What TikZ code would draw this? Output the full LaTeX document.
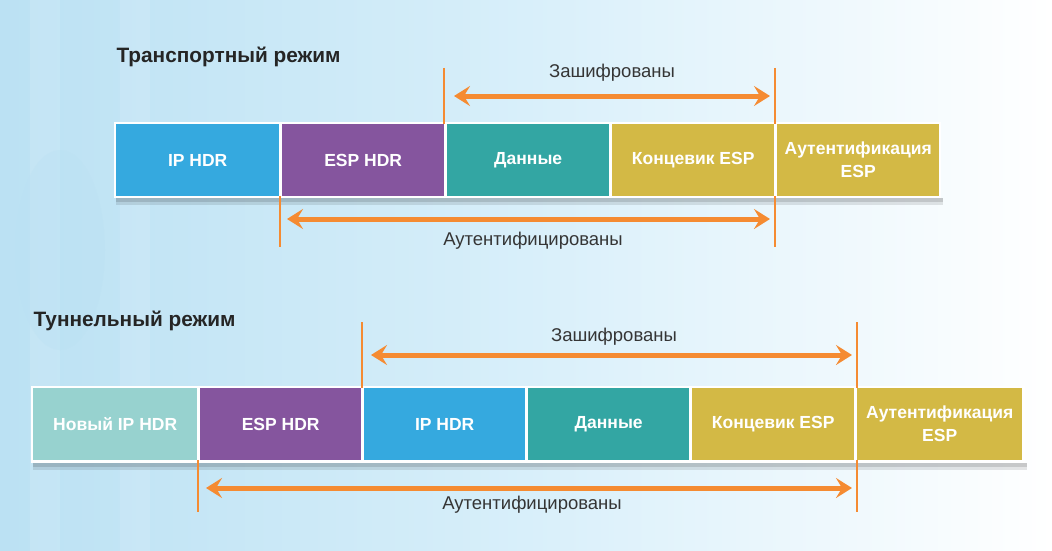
\documentclass[tikz,border=0pt]{standalone}
\usepackage{fontspec}
\setmainfont{Liberation Sans}
\usetikzlibrary{arrows.meta,positioning}
\definecolor{ipblue}{HTML}{35A9DF}
\definecolor{esppurple}{HTML}{85559E}
\definecolor{datateal}{HTML}{33A6A3}
\definecolor{espyellow}{HTML}{D3B945}
\definecolor{newip}{HTML}{97D2CF}
\definecolor{arroworange}{HTML}{F58B32}
\definecolor{txtgray}{HTML}{353535}
\definecolor{bgleft}{HTML}{BBE1F3}
\definecolor{bgmid}{HTML}{D8EFFA}
\tikzset{
  cell/.style={anchor=north west, minimum height=72pt, inner sep=0pt, text=white,
    font=\fontsize{17.5}{23}\selectfont\bfseries, align=center},
  frame/.style={fill=white, draw=none},
  tick/.style={draw=arroworange, line width=2pt},
  span/.style={draw=arroworange, line width=5pt,
    {Stealth[length=16pt,width=20pt,inset=6pt]}-{Stealth[length=16pt,width=20pt,inset=6pt]}},
  lbl/.style={text=txtgray, font=\fontsize{18.5}{20}\selectfont},
  title/.style={anchor=west, text=txtgray!70!black, font=\fontsize{20.8}{22}\selectfont\bfseries}
}
\begin{document}
\begin{tikzpicture}[x=1pt,y=-1pt]
\useasboundingbox (0,0) rectangle (1052,551);
% background
\shade[left color=bgleft, right color=white, middle color=bgmid, shading angle=90] (0,0) rectangle (1052,551);
\fill[white, opacity=0.12] (30,0) rectangle (60,551);
\fill[white, opacity=0.10] (120,0) rectangle (150,551);
\fill[bgleft, opacity=0.35] (60,250) ellipse (45 and 100);

% ===== Transport mode =====
\node[title] (ttitle) at (113,57) {Транспортный режим};
\fill[black, opacity=0.10] (116,198) rectangle (943,205);
\fill[black, opacity=0.12] (116,198) rectangle (943,202);
\fill[frame] (114,122) rectangle (941,198);
\node[cell, fill=ipblue, minimum width=163pt] (t1) at (116,124) {IP HDR};
\node[cell, fill=esppurple, minimum width=162pt] (t2) at (282,124) {ESP HDR};
\node[cell, fill=datateal, minimum width=162pt] (t3) at (447,124) {Данные};
\node[cell, fill=espyellow, minimum width=162pt] (t4) at (612,124) {Концевик ESP};
\node[cell, fill=espyellow, minimum width=162pt] (t5) at (777,124) {Аутентификация\\ESP};

\coordinate (te1) at (444,68);
\coordinate (te2) at (775,68);
\coordinate (tb1) at (280,247);
\coordinate (tb2) at (775,247);
\draw[tick] (te1) -- (te1 |- t3.north);
\draw[tick] (te2) -- (te2 |- t5.north);
\draw[tick] (tb1 |- t1.south) -- (tb1);
\draw[tick] (tb2 |- t5.south) -- (tb2);
\coordinate (tea) at (454,96);
\coordinate (teb) at (770,96);
\draw[span] (tea) -- (teb);
\node[lbl] (tenc) at (612,73) {Зашифрованы};
\coordinate (taa) at (287,219);
\coordinate (tab) at (770,219);
\draw[span] (taa) -- (tab);
\node[lbl] (tauth) at (533,241) {Аутентифицированы};

% ===== Tunnel mode =====
\node[title] (ntitle) at (30,321) {Туннельный режим};
\fill[black, opacity=0.10] (33,463) rectangle (1027,470);
\fill[black, opacity=0.12] (33,463) rectangle (1027,467);
\fill[frame] (31,386) rectangle (1025,463);
\node[cell, fill=newip, minimum width=164pt] (n1) at (33,388) {Новый IP HDR};
\node[cell, fill=esppurple, minimum width=161pt] (n2) at (200,388) {ESP HDR};
\node[cell, fill=ipblue, minimum width=161pt] (n3) at (364,388) {IP HDR};
\node[cell, fill=datateal, minimum width=161pt] (n4) at (528,388) {Данные};
\node[cell, fill=espyellow, minimum width=162pt] (n5) at (692,388) {Концевик ESP};
\node[cell, fill=espyellow, minimum width=165pt] (n6) at (857,388) {Аутентификация\\ESP};

\coordinate (ne1) at (362,322);
\coordinate (ne2) at (857,322);
\coordinate (nb1) at (198,512);
\coordinate (nb2) at (857,512);
\draw[tick] (ne1) -- (ne1 |- n3.north);
\draw[tick] (ne2) -- (ne2 |- n6.north);
\draw[tick] (nb1 |- n1.south) -- (nb1);
\draw[tick] (nb2 |- n6.south) -- (nb2);
\coordinate (nea) at (371,355);
\coordinate (neb) at (852,355);
\draw[span] (nea) -- (neb);
\node[lbl] (nenc) at (614,337) {Зашифрованы};
\coordinate (naa) at (206,488);
\coordinate (nab) at (852,488);
\draw[span] (naa) -- (nab);
\node[lbl] (nauth) at (532,505) {Аутентифицированы};
\end{tikzpicture}
\end{document}
